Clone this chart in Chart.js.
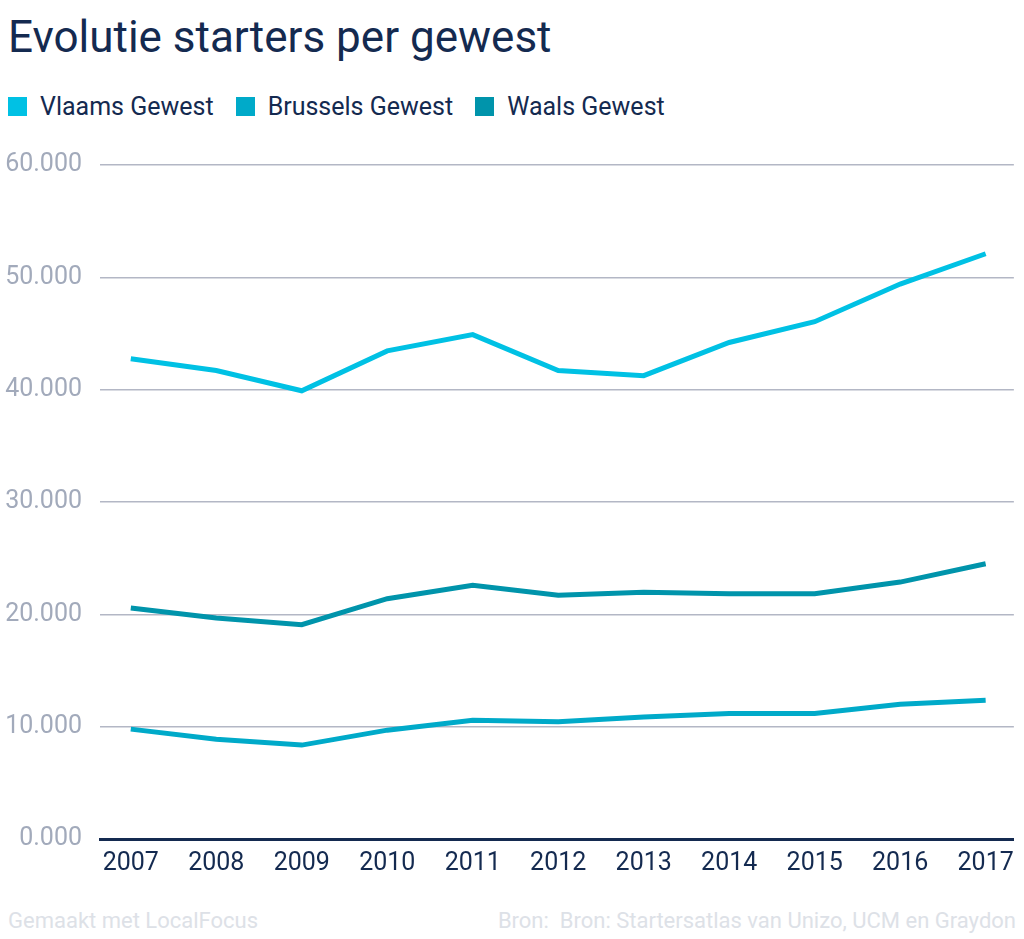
<!DOCTYPE html>
<html>
<head>
<meta charset="utf-8">
<script src="https://cdn.jsdelivr.net/npm/chart.js@4"></script>
<style>
  html, body { margin: 0; padding: 0; background: #fff; }
  body { width: 1024px; height: 939px; position: relative; overflow: hidden; font-family: Roboto, "Noto Sans", sans-serif; }
  #title { position: absolute; left: 8px; top: 15px; font-size: 44px; line-height: 1; color: #142a50; white-space: nowrap; }
  #legend { position: absolute; left: 8px; top: 94px; display: flex; font-size: 25px; line-height: 1; color: #142a50; white-space: nowrap; }
  .item { display: flex; align-items: center; margin-right: 22px; }
  .sw { width: 19px; height: 19px; margin-right: 13px; }
  #wrap { position: absolute; left: 0; top: 132px; width: 1024px; height: 768px; }
  .foot { position: absolute; top: 910px; font-size: 22px; line-height: 1; color: #dde1e7; white-space: nowrap; }
</style>
</head>
<body>
<div id="title">Evolutie starters per gewest</div>
<div id="legend"></div>
<div id="wrap"><canvas id="c"></canvas></div>
<div class="foot" style="left:8px">Gemaakt met LocalFocus</div>
<div class="foot" style="right:8px">Bron:&nbsp; Bron: Startersatlas van Unizo, UCM en Graydon</div>
<script>
const years = [2007, 2008, 2009, 2010, 2011, 2012, 2013, 2014, 2015, 2016, 2017];
const seriesNames = ["Vlaams Gewest", "Brussels Gewest", "Waals Gewest"];
const vlaams   = [42750, 41700, 39900, 43450, 44900, 41700, 41250, 44200, 46050, 49400, 52100];
const brussels = [9780, 8890, 8360, 9690, 10580, 10430, 10870, 11170, 11170, 12000, 12360];
const waals    = [20560, 19670, 19080, 21390, 22580, 21690, 21960, 21840, 21840, 22870, 24500];
const yTicks   = [0, 10000, 20000, 30000, 40000, 50000, 60000];
const colors   = ["#00c1e4", "#00aac9", "#0094ab"];

const allSeries = [vlaams, brussels, waals];

const legend = document.getElementById('legend');
seriesNames.forEach((n, i) => {
  const it = document.createElement('div'); it.className = 'item';
  const sw = document.createElement('div'); sw.className = 'sw'; sw.style.background = colors[i];
  const tx = document.createElement('span'); tx.textContent = n;
  it.appendChild(sw); it.appendChild(tx); legend.appendChild(it);
});

const fmt = v => String(Math.round(v / 1000)) + '.000';

new Chart(document.getElementById('c'), {
  type: 'line',
  data: {
    datasets: allSeries.map((arr, i) => ({
      label: seriesNames[i],
      data: arr.map((v, j) => ({ x: years[j], y: v })),
      borderColor: colors[i],
      backgroundColor: colors[i],
      borderWidth: 5,
      pointRadius: 0,
      tension: 0,
      fill: false,
      borderCapStyle: 'butt',
      borderJoinStyle: 'miter'
    }))
  },
  options: {
    responsive: true,
    maintainAspectRatio: false,
    animation: false,
    layout: { padding: { top: 17, right: 8, left: 0, bottom: 0 } },
    plugins: { legend: { display: false }, tooltip: { enabled: false }, title: { display: false } },
    scales: {
      x: {
        type: 'linear',
        min: 2006.64,
        max: 2017.33,
        afterBuildTicks: s => { s.ticks = years.map(v => ({ value: v })); },
        afterFit: s => { s.height = 61; },
        grid: { display: false, drawTicks: false },
        border: { display: true, color: '#142a50', width: 3 },
        ticks: {
          callback: v => String(v),
          color: '#142a50',
          font: { family: 'Roboto', size: 25 },
          padding: 10,
          maxRotation: 0,
          autoSkip: false
        }
      },
      y: {
        min: 0,
        max: 60000,
        afterBuildTicks: s => { s.ticks = yTicks.map(v => ({ value: v })); },
        afterFit: s => { s.width = 100; },
        grid: { color: '#b3b7c5', lineWidth: 1.5, drawTicks: false },
        border: { display: false },
        ticks: {
          callback: v => fmt(v),
          color: '#a2aabb',
          font: { family: 'Roboto', size: 25 },
          padding: 18
        }
      }
    }
  }
});
</script>
</body>
</html>
